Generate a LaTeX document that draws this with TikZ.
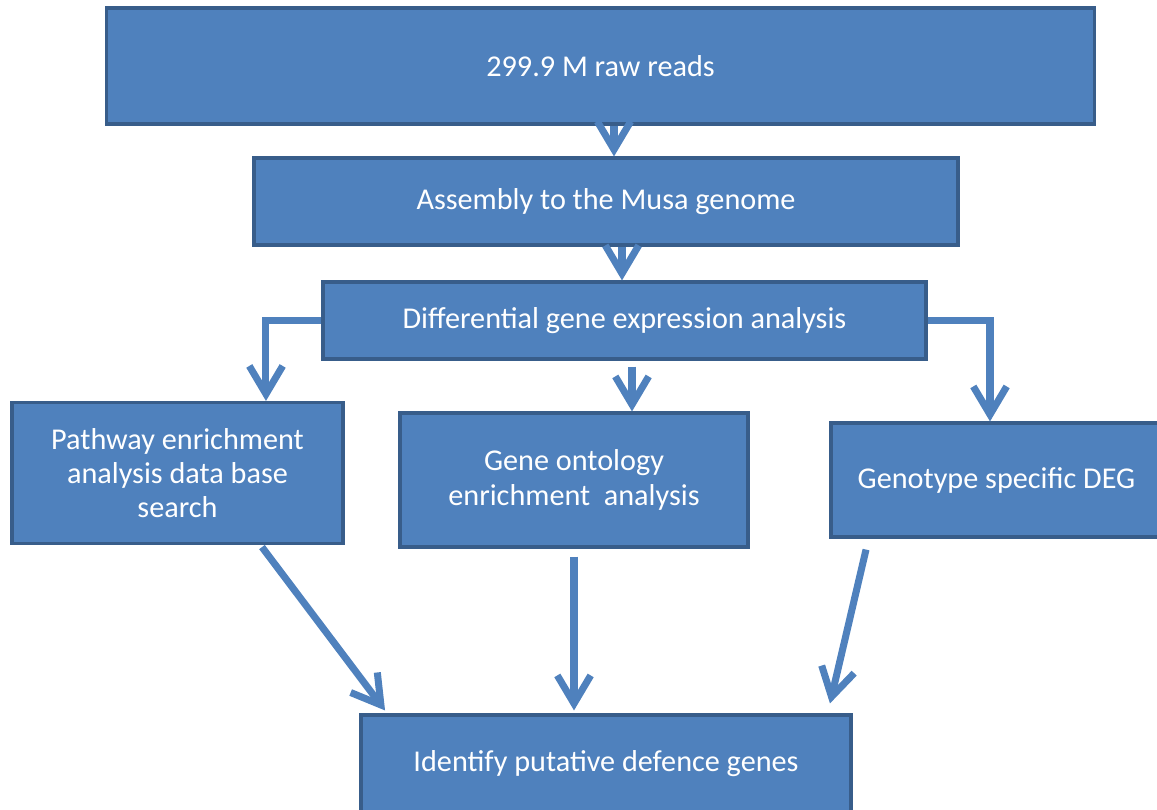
\documentclass[tikz,border=0pt]{standalone}
\usepackage{fontspec}
\setmainfont{Carlito}
\usepackage{tikz}
\usetikzlibrary{arrows.meta}
\usetikzlibrary{calc}

\definecolor{boxblue}{HTML}{4F81BD}
\definecolor{boxline}{HTML}{385D8A}

\begin{document}
\begin{tikzpicture}[x=0.02cm,y=-0.02cm,
    stepbox/.style={draw=boxline,line width=1.8pt,fill=boxblue,text=white,
      inner sep=0pt,align=center,font=\fontsize{17.2}{19.5}\selectfont},
    flow/.style={draw=boxblue,line width=4pt,
      -{Straight Barb[length=16pt,width=19pt]}}]
\useasboundingbox (0,0) rectangle (1157,809);
\clip (0,0) rectangle (1157,809);

\node[stepbox,minimum width=19.78cm,minimum height=2.32cm] (raw) at (600.5,66) {299.9 M raw reads};
\node[stepbox,minimum width=14.08cm,minimum height=1.74cm] (asm) at (606,201.5) {Assembly to the Musa genome};
\node[stepbox,minimum width=12.06cm,minimum height=1.54cm] (dge) at (624.5,320.5) {Differential gene expression analysis};
\node[stepbox,minimum width=6.62cm,minimum height=2.82cm] (path) at (177.5,473) {Pathway enrichment\\analysis data base\\search};
\node[stepbox,minimum width=6.96cm,minimum height=2.68cm] (go) at (574,480) {Gene ontology\\enrichment\ \ analysis};
\node[stepbox,minimum width=6.62cm,minimum height=2.28cm] (geno) at (996.5,480) {Genotype specific DEG};
\node[stepbox,minimum width=9.8cm,minimum height=1.94cm] (defence) at (606,763.5) {Identify putative defence genes};

\draw[flow] ([xshift=0.27cm]raw.south) -- ([xshift=0.27cm]raw.south |- asm.north);
\draw[flow] ([xshift=0.32cm]asm.south) -- ([xshift=0.32cm]asm.south |- dge.north);
\draw[flow] ([xshift=0.15cm,yshift=-0.12cm]dge.south) -- ([xshift=0.15cm]dge.south |- go.north);
\draw[flow] (dge.west) -| ([xshift=1.77cm]path.north);
\draw[flow] (dge.east) -| ([xshift=-0.13cm]geno.north);

\draw[flow] ([xshift=1.69cm,yshift=-0.04cm]path.south) -- ([xshift=-4.42cm,yshift=0.06cm]defence.north);
\draw[flow] ([yshift=-0.16cm]go.south) -- ([yshift=0.06cm]go.south |- defence.north);
\draw[flow] ([xshift=-2.61cm,yshift=-0.22cm]geno.south) -- ([xshift=4.48cm,yshift=0.2cm]defence.north);

\end{tikzpicture}
\end{document}
